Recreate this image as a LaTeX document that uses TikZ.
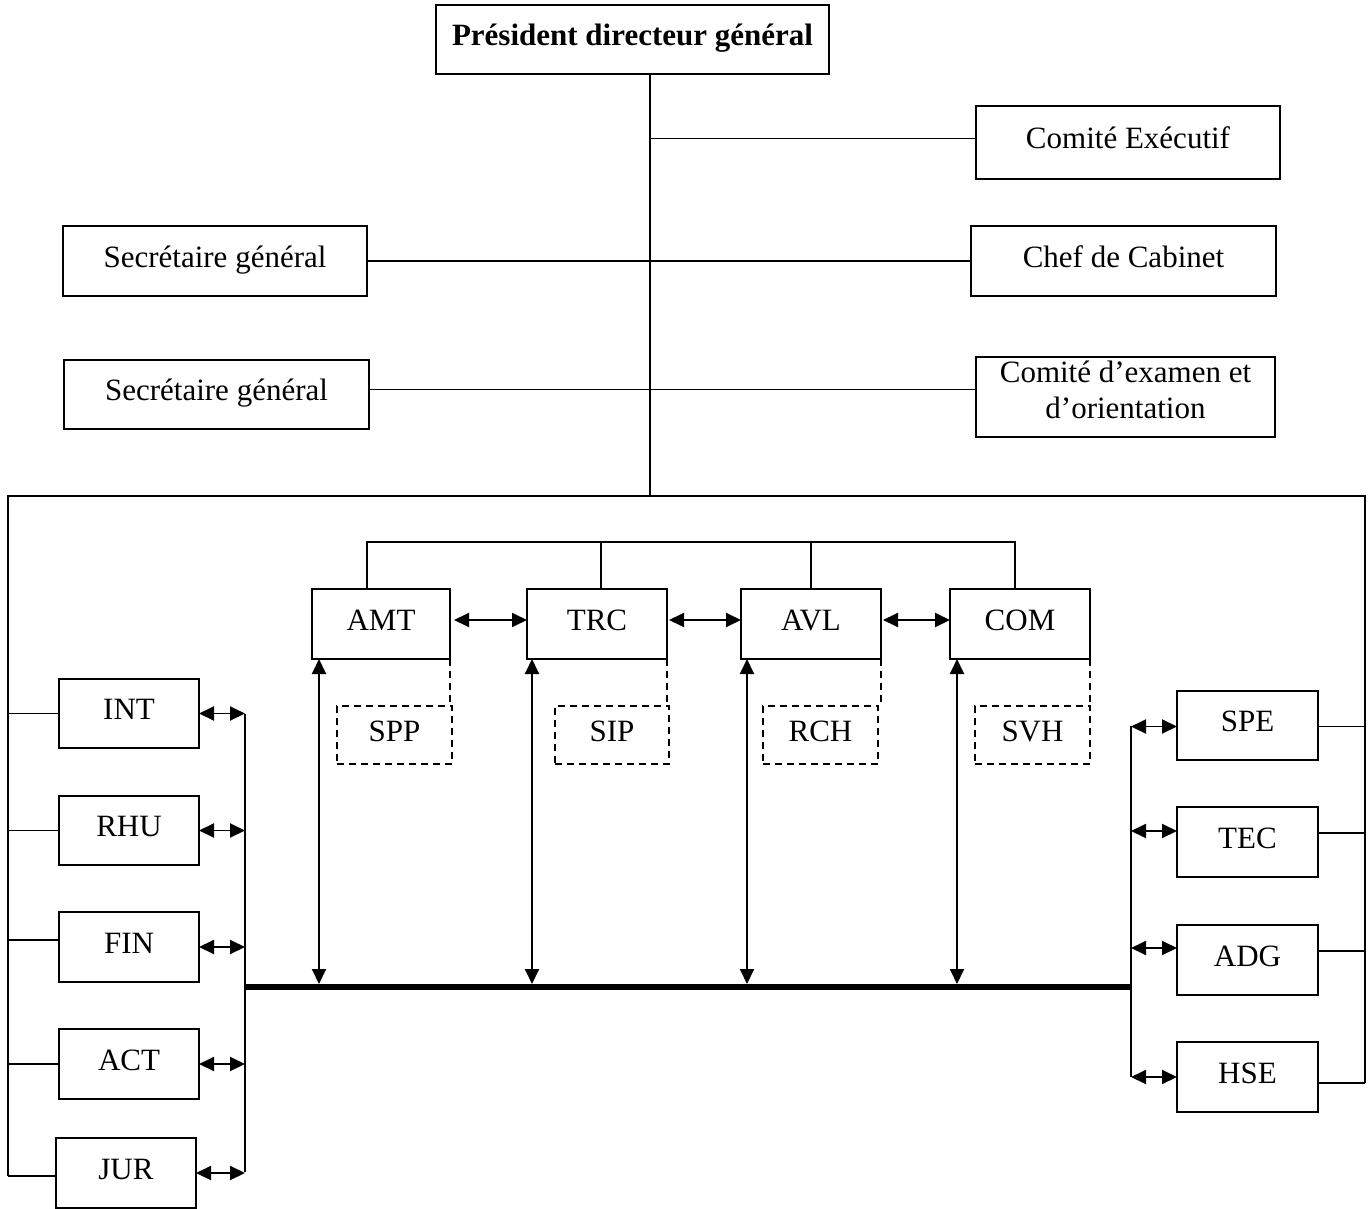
\documentclass[tikz,border=0pt]{standalone}
\usepackage{fontspec}
\setmainfont{Liberation Serif}
\usetikzlibrary{arrows.meta}
\begin{document}
\begin{tikzpicture}[x=1pt,y=-1pt,
  every path/.style={line width=1.9pt},
  boxbase/.style={draw, line width=1.9pt, inner sep=0pt, outer sep=0pt, align=center,
     font=\fontsize{31}{36}\selectfont},
  box/.style={boxbase, text height=22pt, text depth=10pt},
  dbox/.style={box, dash pattern=on 7pt off 5pt},
  dlink/.style={dash pattern=on 7pt off 5pt},
  biarrow/.style={{Triangle[length=15pt,width=14pt]}-{Triangle[length=15pt,width=14pt]}},
  bus/.style={line width=6pt}
]
\useasboundingbox (0,0) rectangle (1368,1209);

% top part
\node[box, minimum width=393, minimum height=69, font=\fontsize{31}{36}\selectfont\bfseries] (pdg) at (632.5,39.5) {Président directeur général};
\node[box, minimum width=304, minimum height=73] (ce) at (1128,142.5) {Comité Exécutif};
\node[box, minimum width=304, minimum height=70] (sg1) at (215,261) {Secrétaire général};
\node[box, minimum width=305, minimum height=70] (cc) at (1123.5,261) {Chef de Cabinet};
\node[box, minimum width=305, minimum height=69] (sg2) at (216.5,394.5) {Secrétaire général};
\node[boxbase, text depth=15pt, minimum width=299, minimum height=80] (cex) at (1125.5,397) {Comité d’examen et\\d’orientation};

\coordinate (tb) at (650,496);
\coordinate (ll) at (8,496);
\coordinate (rr) at (1365,496);
\draw (pdg.south -| tb) -- (tb);
\draw ([yshift=4pt]ce.west) -- ([yshift=4pt]ce.west -| tb);
\draw (sg1.east) -- (cc.west);
\draw ([yshift=5pt]sg2.east) -- ([yshift=5pt]sg2.east -| cex.west);

% big frame
\coordinate (llb) at (8,1176);
\coordinate (rrb) at (1365,1083);
\draw (llb) -- (ll) -- (rr) -- (rrb);

% middle row
\node[box, minimum width=138, minimum height=70] (amt) at (381,624) {AMT};
\node[box, minimum width=140, minimum height=70] (trc) at (597,624) {TRC};
\node[box, minimum width=140, minimum height=70] (avl) at (811,624) {AVL};
\node[box, minimum width=140, minimum height=70] (com) at (1020,624) {COM};

\node[dbox, minimum width=115, minimum height=58] (spp) at (394.5,735) {SPP};
\node[dbox, minimum width=114, minimum height=58] (sip) at (612,735) {SIP};
\node[dbox, minimum width=115, minimum height=58] (rch) at (820.5,735) {RCH};
\node[dbox, minimum width=115, minimum height=58] (svh) at (1032.5,735) {SVH};

\coordinate (bar) at (0,542);
\draw ([xshift=-14pt]amt.north) -- ([xshift=-14pt]amt.north |- bar) -- ([xshift=-5pt]com.north |- bar) -- ([xshift=-5pt]com.north);
\draw ([xshift=4pt]trc.north) -- ([xshift=4pt]trc.north |- bar);
\draw (avl.north) -- (avl.north |- bar);

\draw[biarrow, shorten <=4pt] ([yshift=4pt]amt.east) -- ([yshift=4pt]trc.west);
\draw[biarrow, shorten <=2pt] ([yshift=4pt]trc.east) -- ([yshift=4pt]avl.west);
\draw[biarrow, shorten <=2pt] ([yshift=4pt]avl.east) -- ([yshift=4pt]com.west);

\draw[dlink] (amt.south east) -- (amt.south east |- spp.north);
\draw[dlink] (trc.south east) -- (trc.south east |- sip.north);
\draw[dlink] (avl.south east) -- (avl.south east |- rch.north);
\draw[dlink] (com.south east) -- (com.south east |- svh.north);

% bus
\coordinate (lv) at (245,987);
\coordinate (rv) at (1131,987);
\draw[bus] (lv) -- (rv);
\draw[biarrow] ([xshift=7pt]amt.south west) -- ([xshift=7pt,yshift=3pt]amt.south west |- lv);
\draw[biarrow] ([xshift=5pt]trc.south west) -- ([xshift=5pt,yshift=3pt]trc.south west |- lv);
\draw[biarrow] ([xshift=6pt]avl.south west) -- ([xshift=6pt,yshift=3pt]avl.south west |- lv);
\draw[biarrow] ([xshift=7pt]com.south west) -- ([xshift=7pt,yshift=3pt]com.south west |- lv);

% left column
\node[box, minimum width=140, minimum height=69] (int) at (129,713.5) {INT};
\node[box, minimum width=140, minimum height=69] (rhu) at (129,830.5) {RHU};
\node[box, minimum width=140, minimum height=70] (fin) at (129,947) {FIN};
\node[box, minimum width=140, minimum height=70] (act) at (129,1064) {ACT};
\node[box, minimum width=140, minimum height=70] (jur) at (126,1173) {JUR};

\coordinate (lvt) at (245,714);
\coordinate (lvb) at (245,1172);
\draw (lvt) -- (lvb);
\foreach \n in {int,rhu,fin,act,jur}{
  \draw[biarrow] (\n.east) -- (\n.east -| lvt);
}
\draw (int.west) -- (int.west -| ll);
\draw (rhu.west) -- (rhu.west -| ll);
\draw ([yshift=7pt]fin.west) -- ([yshift=7pt]fin.west -| ll);
\draw (act.west) -- (act.west -| ll);
\draw ([yshift=-3pt]jur.west) -- ([yshift=-3pt]jur.west -| ll);

% right column
\node[box, minimum width=141, minimum height=69] (spe) at (1247.5,725.5) {SPE};
\node[box, minimum width=141, minimum height=70] (tec) at (1247.5,842) {TEC};
\node[box, minimum width=141, minimum height=70] (adg) at (1247.5,960) {ADG};
\node[box, minimum width=141, minimum height=70] (hse) at (1247.5,1077) {HSE};

\coordinate (rvt) at (1131,726);
\coordinate (rvb) at (1131,1077);
\draw (rvt) -- (rvb);
\draw[biarrow] ([yshift=-1pt]spe.west -| rvt) -- ([yshift=-1pt]spe.west);
\draw[biarrow] ([yshift=11pt]tec.west -| rvt) -- ([yshift=11pt]tec.west);
\draw[biarrow] ([yshift=12pt]adg.west -| rvt) -- ([yshift=12pt]adg.west);
\draw[biarrow] (hse.west -| rvt) -- (hse.west);
\draw ([yshift=-1pt]spe.east) -- ([yshift=-1pt]spe.east -| rr);
\draw ([yshift=9pt]tec.east) -- ([yshift=9pt]tec.east -| rr);
\draw ([yshift=9pt]adg.east) -- ([yshift=9pt]adg.east -| rr);
\draw ([yshift=-6pt]hse.east) -- ([yshift=-6pt]hse.east -| rr);
\end{tikzpicture}
\end{document}
